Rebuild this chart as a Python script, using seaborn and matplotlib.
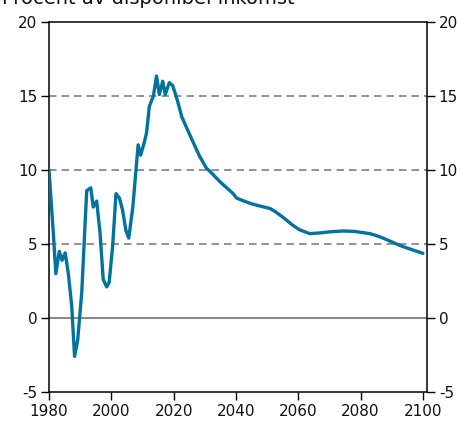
import matplotlib
matplotlib.use("Agg")
import matplotlib.pyplot as plt
import seaborn as sns
import pandas as pd

# Household saving ratio, per cent of disposable income (outcome and projection)
years = [
    1980.0, 1981.4, 1982.2, 1983.3, 1984.2, 1985.2, 1986.2, 1987.3, 1988.2, 1989.2,
    1990.5, 1992.1, 1993.4, 1994.2, 1995.3, 1996.4, 1997.4, 1998.5, 1999.3, 2000.4,
    2001.5, 2002.6, 2003.6, 2004.7, 2005.6, 2006.9, 2008.6, 2009.4, 2010.5, 2011.3,
    2012.2, 2013.5, 2014.5, 2015.4, 2016.5, 2017.3, 2018.6, 2019.7, 2021.2, 2022.6,
    2024.7, 2027.4, 2028.4, 2030.6, 2031.7, 2034.9, 2037.0, 2039.1, 2040.2, 2042.0,
    2044.5, 2047.0, 2050.9, 2052.5, 2054.1, 2056.0, 2058.0, 2060.5, 2063.7, 2067.0,
    2070.0, 2074.4, 2078.0, 2083.0, 2086.0, 2088.3, 2092.6, 2096.0, 2100.0,
]
saving = [
    10.0, 5.7, 3.0, 4.5, 3.9, 4.4, 3.0, 0.8, -2.6, -1.5,
    1.7, 8.6, 8.8, 7.5, 7.9, 5.7, 2.6, 2.1, 2.4, 4.8,
    8.4, 8.1, 7.3, 5.9, 5.4, 7.5, 11.7, 11.0, 11.8, 12.5,
    14.3, 15.0, 16.35, 15.1, 16.0, 15.1, 15.9, 15.7, 14.7, 13.6,
    12.6, 11.35, 10.9, 10.1, 9.9, 9.2, 8.8, 8.4, 8.1, 7.95,
    7.75, 7.6, 7.4, 7.2, 6.96, 6.65, 6.3, 5.95, 5.7, 5.75,
    5.82, 5.88, 5.85, 5.7, 5.5, 5.3, 4.9, 4.65, 4.37,
]

x_ticks = [1980, 2000, 2020, 2040, 2060, 2080, 2100]
y_ticks = [-5, 0, 5, 10, 15, 20]
dashed_levels = [5, 10, 15]
title_text = "Procent av disponibel inkomst"

df = pd.DataFrame({"year": years, "saving": saving})

sns.set_theme(style="white")
plt.rcParams["font.family"] = ["DejaVu Sans"]
plt.rcParams["axes.unicode_minus"] = False

fig = plt.figure(figsize=(4.70, 4.23), dpi=100)
ax = fig.add_axes([49 / 470, 31 / 423, 378 / 470, 370 / 423])

for lvl in dashed_levels:
    ax.axhline(lvl, color="#808080", lw=1.2, ls=(0, (4.5, 3)), zorder=1)
ax.axhline(0, color="#8a8a8a", lw=1.5, zorder=1)

sns.lineplot(data=df, x="year", y="saving", ax=ax, color="#00739e",
             lw=2.4, zorder=3, legend=False)

ax.set_xlim(1980, 2101.3)
ax.set_ylim(-5, 20)
ax.set_xticks(x_ticks)
ax.set_yticks(y_ticks)
ax.set_xlabel("")
ax.set_ylabel("")

for side in ["left", "right", "top", "bottom"]:
    ax.spines[side].set_visible(True)
    ax.spines[side].set_color("black")
    ax.spines[side].set_linewidth(1.1)

ax.tick_params(axis="both", which="major", direction="out", length=5.5,
               width=1.0, color="black", labelsize=11, labelcolor="#111111",
               pad=3)
ax.tick_params(axis="y", left=True, right=True, labelleft=True, labelright=True)
ax.tick_params(axis="x", bottom=True, top=False)

fig.text(2 / 470, 1 - 4 / 423, title_text, ha="left", va="baseline",
         fontsize=14, color="#111111")

fig.savefig("out.png", dpi=100)
